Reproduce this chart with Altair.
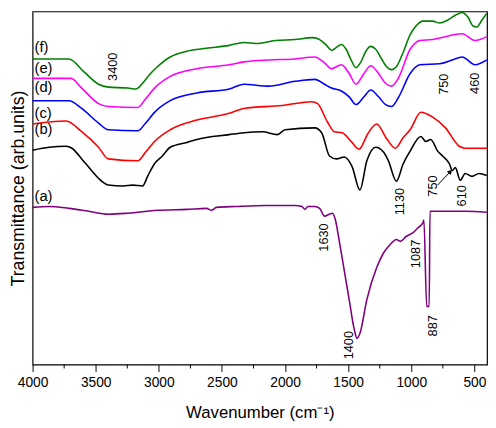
import altair as alt
import pandas as pd

# ---- data (wavenumber in cm-1, transmittance in arbitrary offset units) ----
f_w = [4000, 3712, 3595, 3478, 3400, 3245, 3182, 3128, 3073, 3011, 2910, 2777, 2622, 2442, 2326, 2232, 2076, 1921, 1780, 1726, 1671, 1632, 1593, 1554, 1516, 1477, 1438, 1399, 1360, 1321, 1282, 1235, 1196, 1157, 1118, 1064, 1009, 963, 908, 830, 776, 713, 651, 597, 550, 511, 480, 441, 402]
f_v = [315, 315, 302, 289, 286, 285, 284, 290, 299, 307, 317, 323, 326, 329, 332, 331, 334, 335, 337, 335, 329, 324, 327, 330, 325, 314, 306, 312, 323, 328, 325, 315, 307, 304, 307, 322, 340, 349, 354, 354, 352, 355, 360, 363, 358, 349, 348, 355, 362]

e_w = [4000, 3696, 3611, 3478, 3400, 3167, 3104, 3034, 2910, 2699, 2442, 2326, 2131, 1921, 1765, 1687, 1632, 1554, 1492, 1438, 1375, 1321, 1259, 1204, 1157, 1103, 1009, 932, 830, 698, 597, 495, 402]
e_v = [295, 295, 285, 269, 266, 265, 274, 285, 297, 305, 309, 312, 314, 315, 317, 311, 305, 309, 300, 289, 300, 308, 300, 290, 287, 295, 325, 334, 335, 339, 341, 334, 338]

d_w = [4000, 3712, 3611, 3478, 3400, 3167, 3104, 3034, 2910, 2699, 2442, 2326, 2131, 1921, 1765, 1687, 1632, 1554, 1492, 1438, 1375, 1321, 1259, 1204, 1157, 1103, 1009, 932, 776, 675, 597, 495, 402]
d_v = [272, 272, 264, 249, 242, 241, 249, 260, 272, 280, 284, 289, 287, 292, 294, 289, 285, 282, 276, 268, 276, 283, 276, 268, 266, 275, 300, 309, 310, 314, 317, 309, 314]

c_w = [4000, 3868, 3735, 3611, 3478, 3400, 3167, 3104, 3034, 2910, 2699, 2442, 2326, 2022, 1788, 1742, 1664, 1609, 1547, 1477, 1414, 1344, 1274, 1196, 1126, 1064, 1009, 924, 830, 729, 620, 573, 402]
c_v = [248, 250, 251, 240, 224, 212, 210, 219, 230, 242, 252, 259, 264, 267, 271, 269, 250, 240, 239, 230, 222, 238, 248, 233, 223, 234, 242, 260, 255, 244, 225, 223, 223]

b_w = [4000, 3868, 3735, 3688, 3611, 3533, 3478, 3400, 3283, 3206, 3128, 3089, 3034, 2972, 2910, 2777, 2699, 2442, 2326, 2178, 2061, 1999, 1765, 1710, 1648, 1593, 1531, 1469, 1407, 1352, 1282, 1220, 1181, 1118, 1064, 1009, 924, 885, 846, 791, 752, 698, 675, 651, 612, 573, 519, 464, 402]
b_v = [221, 224, 225, 223, 212, 200, 192, 185, 184, 185, 184, 194, 207, 215, 224, 229, 232, 237, 239, 240, 237, 242, 244, 239, 215, 212, 214, 204, 180, 210, 224, 219, 210, 189, 207, 220, 235, 230, 232, 220, 215, 207, 200, 203, 190, 197, 194, 197, 195]

a_w = [4000, 3868, 3712, 3556, 3400, 3245, 3011, 2777, 2622, 2583, 2544, 2388, 2154, 1921, 1866, 1843, 1819, 1765, 1726, 1687, 1648, 1625, 1601, 1570, 1531, 1492, 1453, 1430, 1407, 1352, 1274, 1220, 1165, 1118, 1087, 1041, 986, 947, 908, 900, 878, 858, 852, 752, 573, 402]
a_v = [162, 163, 161, 158, 155, 156, 159, 160, 161, 159, 162, 163, 164, 164, 163, 160, 163, 163, 161, 153, 155, 156, 149, 127, 97, 67, 37, 27, 32, 67, 100, 115, 124, 129, 127, 132, 136, 141, 146, 149, 60, 60, 158, 158, 158, 157]

series_names = ["(a)", "(b)", "(c)", "(d)", "(e)", "(f)"]
series_colors = ["#800080", "#000000", "#ff0000", "#0000ff", "#ff00ff", "#008000"]

label_x = [3985, 3985, 3985, 3985, 3985, 3985]
label_y = [174, 243, 259, 286, 306, 327]

peak_text = ["3400", "750", "460", "1130", "750", "610", "1630", "1400", "1087", "887"]
peak_x = [3360, 737, 495, 1087, 830, 597, 1687, 1492, 963, 830]
peak_y = [307, 289, 290, 168, 184, 174, 131, 20, 114, 40]

arrow_x = [791, 690]
arrow_y = [185, 199]

major_ticks = [4000, 3500, 3000, 2500, 2000, 1500, 1000, 500]
minor_ticks = [3750, 3250, 2750, 2250, 1750, 1250, 750]

# ---- build tables ----
rows = []
for name, ws, vs in zip(series_names, [a_w, b_w, c_w, d_w, e_w, f_w], [a_v, b_v, c_v, d_v, e_v, f_v]):
    for w, v in zip(ws, vs):
        rows.append({"series": name, "w": w, "v": v})
df = pd.DataFrame(rows)
labels_df = pd.DataFrame({"t": series_names, "w": label_x, "v": label_y})
peaks_df = pd.DataFrame({"t": peak_text, "w": peak_x, "v": peak_y})
arrow_df = pd.DataFrame({"w": arrow_x, "v": arrow_y})
head_df = arrow_df.iloc[[1]]
minor_df = pd.DataFrame({"w": minor_ticks})

FONT = "Liberation Sans"
xscale = alt.Scale(domain=[4000, 400], nice=False, zero=False)
yscale = alt.Scale(domain=[0, 364], nice=False, zero=False)

xaxis = alt.Axis(values=major_ticks, format="d", title="Wavenumber (cm⁻¹)", grid=False, domain=False,
                 tickSize=7, tickColor="black", labelFontSize=14, labelColor="black",
                 labelFont=FONT, labelPadding=4, titleFont=FONT, titleFontSize=17,
                 titleFontWeight="normal", titleColor="black", titlePadding=16,
                 labelFlush=False)
yaxis = alt.Axis(labels=False, ticks=False, grid=False, domain=False,
                 title="Transmittance (arb.units)", titleFont=FONT, titleFontSize=18,
                 titleFontWeight="normal", titleColor="black", titlePadding=5)

lines = alt.Chart(df).mark_line(strokeWidth=1.6, interpolate="monotone").encode(
    x=alt.X("w:Q", scale=xscale, axis=xaxis),
    y=alt.Y("v:Q", scale=yscale, axis=yaxis),
    color=alt.Color("series:N", scale=alt.Scale(domain=series_names, range=series_colors), legend=None),
    detail="series:N",
)

labels = alt.Chart(labels_df).mark_text(align="left", baseline="middle", font=FONT, fontSize=15,
                                        color="black").encode(
    x=alt.X("w:Q", scale=xscale), y=alt.Y("v:Q", scale=yscale), text="t:N")

peaks = alt.Chart(peaks_df).mark_text(angle=270, align="center", baseline="middle", font=FONT,
                                      fontSize=13, color="black").encode(
    x=alt.X("w:Q", scale=xscale), y=alt.Y("v:Q", scale=yscale), text="t:N")

arrow = alt.Chart(arrow_df).mark_line(color="black", strokeWidth=1).encode(
    x=alt.X("w:Q", scale=xscale), y=alt.Y("v:Q", scale=yscale))
head = alt.Chart(head_df).mark_point(shape="triangle-up", filled=True, color="black", size=30,
                                     angle=43, opacity=1).encode(
    x=alt.X("w:Q", scale=xscale), y=alt.Y("v:Q", scale=yscale))

minor = alt.Chart(minor_df).mark_rule(color="black", strokeWidth=1).encode(
    x=alt.X("w:Q", scale=xscale), y=alt.value(359), y2=alt.value(363))

chart = alt.layer(lines, labels, peaks, arrow, head, minor).properties(
    width=462, height=359,
    autosize=alt.AutoSizeParams(type="none"),
    padding={"left": 25, "right": 1, "top": 0, "bottom": 61},
).configure_view(stroke="black", strokeWidth=1.2)

chart.save("out.html", embed_options={"renderer": "svg", "actions": False})
